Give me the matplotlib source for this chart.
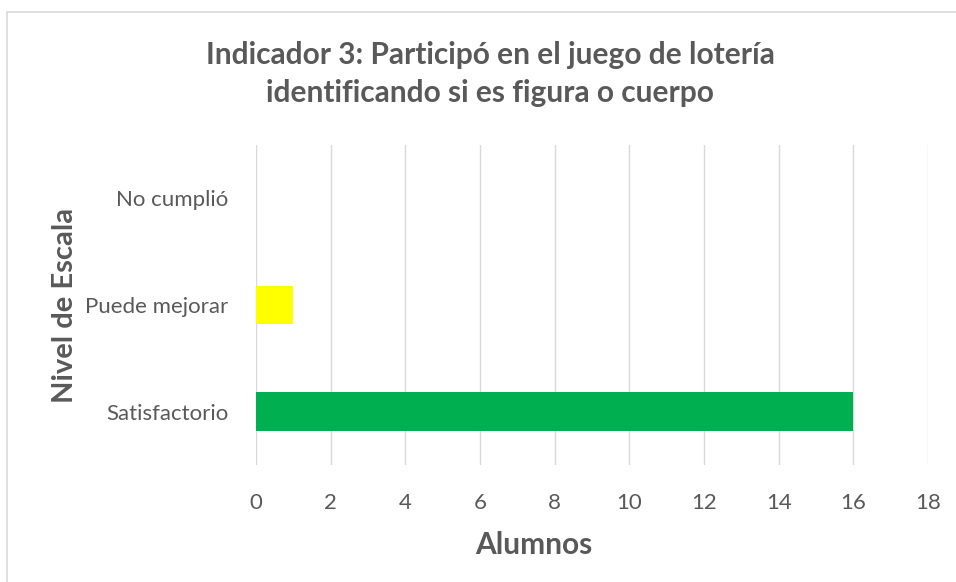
import matplotlib
matplotlib.use("Agg")
import matplotlib.pyplot as plt
from matplotlib.patches import Rectangle

# datos
categorias = ['Satisfactorio', 'Puede mejorar', 'No cumplió']
alumnos = [16, 1, 0]
colores = ['#00B050', '#FFFF00', '#FFFF00']
ticks_x = [0, 2, 4, 6, 8, 10, 12, 14, 16, 18]

titulo = 'Indicador 3: Participó en el juego de lotería\nidentificando si es figura o cuerpo'
gris = '#595959'

plt.rcParams['font.family'] = ['Lato', 'DejaVu Sans']

fig = plt.figure(figsize=(9.56, 5.82), dpi=100)
ax = fig.add_axes([256 / 956, 1 - 465 / 582, 672 / 956, 320 / 582])

ypos = list(range(len(categorias)))
ax.barh(ypos, alumnos, height=0.36, color=colores, zorder=2)

ax.set_xlim(0, 18)
ax.set_ylim(-0.5, 2.5)
ax.set_xticks(ticks_x)
ax.set_yticks(ypos)
ax.set_yticklabels(categorias)
ax.tick_params(length=0, labelsize=16, colors=gris)
ax.tick_params(axis='x', pad=20)
ax.tick_params(axis='y', pad=20)
ax.grid(axis='x', color='#D9D9D9', linewidth=1, zorder=0)
for s in ax.spines.values():
    s.set_visible(False)

ax.set_xlabel('Alumnos', fontsize=21.5, fontweight='bold', color=gris)
ax.xaxis.set_label_coords(278 / 672, -(545 - 465) / 320)
ax.set_ylabel('Nivel de Escala', fontsize=21, fontweight='bold', color=gris)
ax.yaxis.set_label_coords(-(256 - 65) / 672, 0.5)
ax.xaxis.label.set_va('center')
ax.yaxis.label.set_va('center')

fig.text(490 / 956, 1 - 74 / 582, titulo, ha='center', va='center',
         fontsize=21.5, fontweight='bold', color=gris, linespacing=1.45)

# marco del grafico
fig.patches.append(Rectangle((7 / 956, -0.05), 1.0, 1 - 12 / 582 + 0.05,
                             transform=fig.transFigure, fill=False,
                             edgecolor='#D9D9D9', linewidth=1.2))

fig.savefig('out.png', dpi=100)
